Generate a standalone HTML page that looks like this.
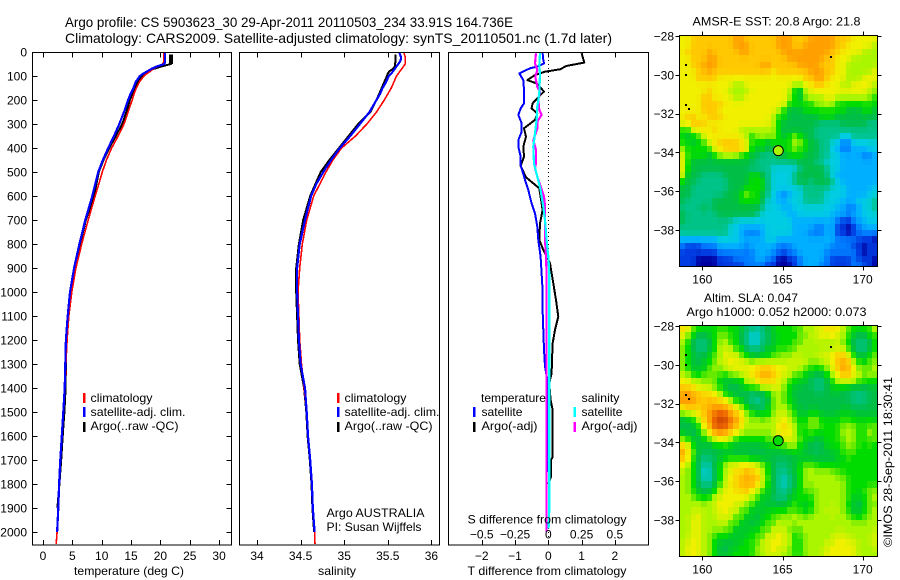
<!DOCTYPE html>
<html lang="en">
<head>
<meta charset="utf-8">
<title>Argo profile</title>
<style>
html,body{margin:0;padding:0;background:#fff;}
svg{display:block;font-family:"Liberation Sans",sans-serif;font-size:12px;fill:#000;}
.frame{fill:none;stroke:#000;stroke-width:1;shape-rendering:crispEdges;}
.bar{shape-rendering:crispEdges;}
.t{font-size:12px;}
</style>
</head>
<body>
<svg id="chart" width="900" height="580" viewBox="0 0 900 580" xmlns="http://www.w3.org/2000/svg">
  <rect width="900" height="580" fill="#fff"/>
  <text x="65" y="27" font-size="14" textLength="448" lengthAdjust="spacingAndGlyphs">Argo profile: CS 5903623_30 29-Apr-2011 20110503_234 33.91S 164.736E</text>
  <text x="65" y="43" font-size="14" textLength="547" lengthAdjust="spacingAndGlyphs">Climatology: CARS2009. Satellite-adjusted climatology: synTS_20110501.nc (1.7d later)</text>

  <g id="temp-panel"></g>
  <g id="sal-panel"></g>
  <g id="diff-panel"></g>
  <g id="sst-map"></g>
  <g id="sla-map"></g>
  <g id="axes"></g>

  <rect class="frame" x="32.5" y="52.5" width="199" height="492.5"/>
  <rect class="frame" x="239.5" y="52.5" width="200" height="492.5"/>
  <rect class="frame" x="448.5" y="52.5" width="200" height="492.5"/>

  <text x="74" y="575" textLength="110" lengthAdjust="spacingAndGlyphs">temperature (deg C)</text>
  <text x="318" y="575" textLength="38" lengthAdjust="spacingAndGlyphs">salinity</text>
  <text x="467.5" y="523.5" textLength="159" lengthAdjust="spacingAndGlyphs">S difference from climatology</text>
  <text x="467.5" y="575" textLength="159" lengthAdjust="spacingAndGlyphs">T difference from climatology</text>

  <g>
    <rect class="bar" x="83" y="393" width="2.5" height="10" fill="#f00"/>
    <rect class="bar" x="83" y="407" width="2.5" height="10" fill="#00f"/>
    <rect class="bar" x="83" y="422" width="2.5" height="10" fill="#000"/>
    <text x="90.5" y="402" textLength="62" lengthAdjust="spacingAndGlyphs">climatology</text>
    <text x="90.5" y="416" textLength="95" lengthAdjust="spacingAndGlyphs">satellite-adj. clim.</text>
    <text x="90.5" y="430" textLength="88" lengthAdjust="spacingAndGlyphs">Argo(..raw -QC)</text>
  </g>
  <g>
    <rect class="bar" x="337" y="393" width="2.5" height="10" fill="#f00"/>
    <rect class="bar" x="337" y="407" width="2.5" height="10" fill="#00f"/>
    <rect class="bar" x="337" y="422" width="2.5" height="10" fill="#000"/>
    <text x="344.5" y="402" textLength="62" lengthAdjust="spacingAndGlyphs">climatology</text>
    <text x="344.5" y="416" textLength="95" lengthAdjust="spacingAndGlyphs">satellite-adj. clim.</text>
    <text x="344.5" y="430" textLength="88" lengthAdjust="spacingAndGlyphs">Argo(..raw -QC)</text>
  </g>
  <text x="326.5" y="517" textLength="98" lengthAdjust="spacingAndGlyphs">Argo AUSTRALIA</text>
  <text x="326.5" y="531" textLength="95" lengthAdjust="spacingAndGlyphs">PI: Susan Wijffels</text>

  <g>
    <text x="481" y="402" textLength="65" lengthAdjust="spacingAndGlyphs">temperature</text>
    <text x="581.5" y="402" textLength="38" lengthAdjust="spacingAndGlyphs">salinity</text>
    <rect class="bar" x="473" y="407" width="2.5" height="10" fill="#00f"/>
    <rect class="bar" x="473" y="422" width="2.5" height="10" fill="#000"/>
    <rect class="bar" x="573.5" y="407" width="2.5" height="10" fill="#0ff"/>
    <rect class="bar" x="573.5" y="422" width="2.5" height="10" fill="#f0f"/>
    <text x="481.5" y="416" textLength="41" lengthAdjust="spacingAndGlyphs">satellite</text>
    <text x="481.5" y="430" textLength="56" lengthAdjust="spacingAndGlyphs">Argo(-adj)</text>
    <text x="581.5" y="416" textLength="41" lengthAdjust="spacingAndGlyphs">satellite</text>
    <text x="581.5" y="430" textLength="56" lengthAdjust="spacingAndGlyphs">Argo(-adj)</text>
  </g>

  <text x="692.5" y="25.5" textLength="168" lengthAdjust="spacingAndGlyphs">AMSR-E SST: 20.8 Argo: 21.8</text>
  <text x="704" y="302" textLength="94" lengthAdjust="spacingAndGlyphs">Altim. SLA: 0.047</text>
  <text x="686.5" y="316" textLength="180" lengthAdjust="spacingAndGlyphs">Argo h1000: 0.052 h2000: 0.073</text>
  <text transform="translate(892,547) rotate(-90)" textLength="170" lengthAdjust="spacingAndGlyphs">©IMOS 28-Sep-2011 18:30:41</text>
</svg>

<script>
/* ---------- profile data ---------- */
const depthLevels = [0,10,20,30,40,50,60,70,80,90,100,125,150,175,200,250,300,350,400,450,500,550,600,700,800,900,1000,1100,1200,1300,1400,1500,1600,1700,1800,1900,2000,2050];
const tempClimatology = [20.6,20.6,20.6,20.6,20.6,20.4,19.5,18.8,18.3,17.7,17.2,16.4,15.9,15.5,15.2,14.5,13.8,12.8,11.7,10.8,10.1,9.5,8.9,7.7,6.6,5.6,4.9,4.4,4.1,3.9,3.75,3.45,3.2,2.95,2.75,2.6,2.4,2.25];
const tempSatellite = [20.8,20.8,20.8,20.8,20.8,20.7,19.4,18.5,17.8,17.1,16.5,15.8,15.4,14.9,14.5,13.8,13.0,12.1,11.1,10.2,9.4,8.9,8.4,7.2,6.2,5.3,4.6,4.2,3.9,3.8,3.7,3.45,3.2,2.95,2.75,2.6,2.4,null];
const tempArgo = [null,21.8,21.8,21.8,21.8,21.8,20.2,18.9,18,17.3,16.8,16.1,15.6,15.2,14.8,14.2,13.5,12.4,11.3,10.3,9.5,9.1,8.7,7.3,6.3,5.4,4.7,4.3,4.0,3.9,3.85,3.65,3.35,3.1,2.8,2.45,null,null];
const salClimatology = [35.69,35.69,35.7,35.7,35.7,35.7,35.68,35.66,35.64,35.62,35.6,35.57,35.54,35.5,35.46,35.37,35.26,35.13,34.97,34.87,34.79,34.72,34.65,34.57,34.52,34.49,34.47,34.48,34.49,34.51,34.54,34.57,34.585,34.61,34.63,34.64,34.66,34.665];
const salSatellite = [35.63,35.64,35.65,35.65,35.64,35.62,35.6,35.58,35.56,35.54,35.51,35.48,35.44,35.41,35.37,35.29,35.18,35.07,34.95,34.85,34.76,34.68,34.62,34.55,34.49,34.46,34.46,34.47,34.48,34.5,34.55,34.57,34.585,34.61,34.63,34.64,34.66,null];
const salArgo = [null,35.59,35.59,35.59,35.59,35.58,35.58,35.56,35.52,35.5,35.49,35.46,35.43,35.4,35.37,35.3,35.16,35.05,34.94,34.83,34.73,34.67,34.61,34.53,34.48,34.45,34.45,34.46,34.47,34.49,34.54,34.565,34.58,34.605,34.625,34.635,34.655,null];

const diffTSatDepths = [5,33,47,61,68,89,117,158,214,235,262,297,332,367,394,436,471,533,575,631,672,728,783,853,922,992,1075,1241,1311,1366,1500,1750];
const diffTSat = [-0.17,-0.15,-0.13,-0.33,-0.55,-0.87,-0.75,-0.73,-0.73,-0.83,-0.9,-0.8,-0.8,-0.9,-0.9,-0.83,-0.83,-0.7,-0.6,-0.5,-0.4,-0.33,-0.3,-0.23,-0.2,-0.17,-0.17,-0.13,-0.1,-0.03,-0.03,-0.03];
const diffTArgoDepths = [5,44,58,72,82,89,96,117,131,165,193,214,235,256,283,318,353,394,436,475,522,568,631,658,714,783,825,880,964,1033,1103,1158,1214,1339,1380,1450,1491,1687,1700,1770,1800];
const diffTArgo = [1.0,1.08,0.55,0.35,-0.1,-0.25,-0.4,-0.63,-0.35,-0.13,-0.33,-0.47,-0.5,-0.33,-0.4,-0.73,-0.67,-0.75,-0.73,-0.83,-0.67,-0.27,-0.2,-0.17,-0.25,-0.27,-0.15,0.05,0.15,0.23,0.3,0.2,0.13,0.1,0.03,0.07,0.13,0.13,0.08,0.08,0.0];
const diffSArgoDepths = [5,47,75,103,144,165,200,242,262,290,318,367,408,464,485,519,561,603,644,700,780,853,922,2000];
const diffSArgo = [-0.0925,-0.1,-0.0825,-0.0975,-0.0825,-0.0625,-0.075,-0.0675,-0.05,-0.0825,-0.0825,-0.1125,-0.0925,-0.0925,-0.1,-0.0825,-0.0575,-0.0325,-0.025,-0.025,-0.025,-0.0175,-0.0125,-0.0125];
const diffSSatDepths = [5,54,89,172,228,283,339,394,464,519,575,644,700,783,853,922,1900,1985];
const diffSSat = [-0.0625,-0.0675,-0.0625,-0.0675,-0.0825,-0.0875,-0.1,-0.1125,-0.1075,-0.0825,-0.0575,-0.0375,-0.025,-0.0125,0,0.0075,0.0075,0.0025];

/* ---------- axis labels ---------- */
const depthTicks = [0,100,200,300,400,500,600,700,800,900,1000,1100,1200,1300,1400,1500,1600,1700,1800,1900,2000];
const tempTicks = [0,5,10,15,20,25,30];
const salTicks = [34,34.5,35,35.5,36];
const diffTTicks = [-2,-1,0,1,2];
const diffSTicks = [-0.5,-0.25,0,0.25,0.5];
const mapLonTicks = [160,165,170];
const mapLatTicks = [-28,-30,-32,-34,-36,-38];

/* ---------- map data (colour levels, rows north to south, 1/3 degree cells) ---------- */
const mapLevelColours = ["#0000a0","#003ce1","#007dff","#00afff","#00cde1","#00c387","#00be46","#00dc00","#aaf500","#f0f000","#ffc800","#ffa000","#eb6400","#c33c00"];
const coastSpecks = [[168,-29.1],[159,-29.5],[159,-30],[159,-31.55],[159.2,-31.75]];
const floatPosition = [164.736,-33.91];
const sstLevels = [
[9,9,10,10,10,10,10,10,10,10,11,11,10,10,10,10,10,10,11,11,11,10,10,10,11,11,11,11,11,10,10,10,9,9,9,9,9],
[9,9,10,10,10,10,10,10,10,10,11,11,11,10,10,10,10,10,11,11,11,10,10,11,11,11,11,11,11,10,10,9,9,9,9,9,8],
[9,10,10,10,10,11,10,10,10,10,10,11,11,10,10,10,10,10,10,11,11,11,11,11,11,11,11,11,10,10,9,9,9,9,8,8,8],
[9,9,10,10,10,11,11,10,10,10,10,10,10,10,10,10,10,10,10,10,11,11,11,11,11,11,11,10,10,9,9,9,8,8,8,8,8],
[9,9,10,10,11,11,11,10,10,10,10,10,10,10,10,11,11,10,10,10,10,10,11,11,11,11,10,10,10,9,9,8,8,8,8,8,8],
[9,9,9,10,10,11,10,10,10,10,10,10,10,10,10,10,10,9,10,10,10,10,10,10,11,11,11,10,10,9,9,8,8,8,8,8,9],
[9,9,9,10,10,10,10,9,9,9,9,9,9,9,9,9,9,9,9,9,9,9,9,10,10,11,11,10,9,9,9,8,8,8,9,9,9],
[9,9,9,9,9,9,9,9,9,9,8,8,9,9,9,9,9,9,9,9,9,8,8,9,9,10,10,9,9,9,8,8,9,9,9,9,8],
[9,9,9,9,9,10,9,9,9,8,8,8,8,9,9,9,9,9,9,9,8,7,6,8,9,9,9,9,9,9,9,9,9,9,9,8,8],
[9,9,9,9,10,10,9,9,9,9,8,8,9,9,9,9,9,9,9,9,8,7,6,8,8,8,8,9,9,8,8,8,8,8,8,8,7],
[9,9,9,9,10,10,10,10,9,9,9,9,9,9,9,9,9,9,9,9,7,7,7,7,7,8,8,8,8,7,7,7,7,7,7,7,7],
[9,9,9,9,10,10,10,9,9,9,9,9,9,9,9,9,9,9,8,7,6,6,6,7,7,7,7,7,7,7,7,6,6,6,7,7,6],
[9,10,10,9,9,10,10,10,9,9,9,9,9,9,9,9,9,8,7,7,6,6,6,6,6,6,7,7,7,6,6,6,6,6,6,6,6],
[9,9,10,10,10,9,9,9,9,9,9,9,9,9,9,9,9,8,7,6,6,6,6,6,6,6,5,5,5,5,6,6,6,6,6,5,5],
[7,7,9,9,9,9,10,9,9,9,9,8,8,8,8,8,8,8,7,6,6,6,6,6,6,5,5,5,5,5,5,5,5,5,5,5,5],
[7,6,7,7,9,9,9,9,9,9,9,9,8,7,8,8,8,8,7,6,7,8,7,6,6,5,5,5,5,5,4,4,5,5,5,5,5],
[7,7,6,7,7,9,9,10,10,10,10,9,9,7,7,7,6,7,7,7,7,8,8,7,6,6,5,5,4,4,2,2,4,4,4,4,4],
[8,7,7,7,7,7,9,9,10,10,10,10,9,7,6,7,6,6,6,7,7,8,7,7,6,6,5,5,4,3,2,2,3,3,3,4,4],
[9,7,7,7,7,6,7,8,8,8,8,7,7,6,6,5,5,5,6,6,7,7,7,6,6,6,5,5,4,4,3,3,3,3,2,2,3],
[9,7,6,6,6,6,6,6,6,6,6,6,6,6,5,5,5,5,5,5,5,5,6,6,6,5,5,4,4,4,3,3,3,3,3,3,3],
[9,7,6,6,6,6,6,6,6,6,6,6,6,5,5,5,5,4,4,4,4,4,5,6,6,6,6,5,4,4,3,3,3,3,3,3,3],
[9,6,6,6,5,5,5,5,6,6,6,6,6,7,7,6,5,4,4,4,4,5,6,6,6,6,6,5,4,3,3,3,3,3,3,3,3],
[7,6,6,5,5,5,5,5,5,6,6,6,6,7,7,7,5,4,4,4,4,5,6,6,5,6,6,6,5,4,3,3,3,3,3,3,3],
[6,6,5,5,5,5,5,5,5,6,6,6,7,7,7,7,5,4,4,4,4,4,4,5,5,5,5,5,4,4,4,3,3,3,3,3,4],
[6,6,5,5,5,5,5,5,6,6,6,7,8,7,7,6,5,4,3,2,3,4,4,5,5,5,5,4,4,4,4,3,3,3,3,4,4],
[6,5,5,5,5,5,6,6,6,6,6,7,7,7,7,6,4,4,3,3,4,4,4,5,5,5,5,4,4,4,3,3,3,4,4,4,5],
[5,5,5,5,6,5,6,6,6,6,6,6,6,6,6,5,4,4,4,3,3,4,4,4,4,4,4,4,4,3,3,2,2,3,4,4,5],
[6,5,5,5,5,5,5,6,6,6,6,6,6,6,5,4,4,4,4,4,3,3,4,4,4,4,4,4,3,3,3,2,3,3,4,4,4],
[6,5,5,5,5,5,5,5,5,5,4,4,4,4,4,4,4,4,4,4,4,3,3,3,3,3,3,3,3,2,1,1,2,3,3,4,4],
[5,5,5,5,5,5,5,5,5,4,4,3,3,3,3,3,4,4,4,4,4,3,3,3,3,2,2,3,3,1,1,0,1,2,3,3,3],
[5,5,5,5,5,5,5,5,5,4,4,3,2,2,2,3,4,4,4,4,4,3,3,3,2,2,2,3,3,1,1,0,1,2,2,2,2],
[3,3,3,3,3,3,3,4,4,4,4,3,3,3,3,3,4,4,3,3,3,3,3,3,3,3,3,3,3,2,2,2,2,1,1,1,0],
[2,1,1,1,2,2,2,3,3,3,3,3,2,3,3,3,3,3,2,2,2,3,3,3,3,3,3,3,2,2,2,2,1,1,0,1,1],
[1,1,1,1,1,1,1,2,2,2,2,2,2,2,3,3,3,2,2,1,2,2,3,3,3,3,3,2,2,2,2,2,2,1,0,1,1],
[1,1,1,0,0,0,0,1,1,1,2,2,2,2,3,3,2,2,0,0,1,1,2,3,3,3,3,2,1,1,1,1,2,1,1,1,0],
[1,1,1,0,0,0,0,1,1,1,1,1,2,2,2,2,1,1,0,0,0,1,2,3,3,3,2,2,1,1,1,1,2,2,1,1,0]
];
const slaLevels = [
[10,9,8,7,7,7,7,7,7,7,7,6,6,5,5,5,6,7,7,7,7,7,8,8,8,8,9,9,10,9,8,8,7,7,7,8,8],
[9,8,6,6,6,6,7,8,8,7,7,6,5,4,4,5,6,6,7,7,7,7,7,8,8,9,9,9,9,9,8,7,6,6,6,6,8],
[8,7,6,5,5,6,7,8,8,7,7,6,5,4,4,5,6,6,7,7,7,7,8,8,8,8,8,8,8,8,8,7,6,5,5,6,7],
[8,7,6,5,5,6,7,8,9,8,8,6,6,5,5,6,6,7,7,7,7,8,8,8,8,8,8,8,8,9,8,7,6,5,5,6,7],
[8,7,6,6,6,7,7,8,9,9,8,8,7,6,6,6,7,7,8,8,8,8,8,8,8,8,9,9,9,10,10,9,7,6,6,7,8],
[8,7,6,6,6,7,8,8,9,9,9,9,8,8,8,8,8,8,8,8,8,9,9,8,8,8,8,8,9,10,11,10,8,7,7,7,8],
[8,7,6,6,7,7,8,8,8,9,9,9,9,9,10,10,10,10,9,9,9,8,8,8,7,7,7,8,9,10,11,11,9,8,7,8,8],
[8,8,7,7,7,8,8,7,7,8,8,8,9,9,10,11,11,10,9,9,8,8,7,7,6,6,6,7,8,9,10,10,9,8,8,8,8],
[9,9,8,8,8,8,7,7,6,6,6,7,8,9,9,10,10,9,9,8,7,7,7,6,6,5,5,6,7,8,9,9,8,8,7,7,7],
[10,10,9,9,8,8,8,7,6,6,6,6,7,7,8,8,8,9,9,8,7,6,6,6,6,5,5,6,7,7,6,6,6,6,6,6,6],
[11,11,11,10,10,10,9,8,7,6,6,6,6,5,5,6,6,8,8,7,7,6,6,6,6,6,6,6,6,6,6,6,5,5,5,6,6],
[11,12,11,10,10,10,10,10,9,8,7,6,6,5,5,5,6,8,8,8,7,6,6,6,6,6,6,6,6,6,6,6,5,5,5,6,6],
[10,10,10,10,10,11,11,11,11,10,9,8,7,6,5,6,6,8,8,8,7,7,6,6,6,6,6,6,6,6,6,6,6,6,6,6,6],
[7,8,9,9,10,11,12,12,12,11,10,9,8,7,7,6,7,8,8,9,8,7,6,6,7,7,6,6,6,6,7,7,6,6,6,6,6],
[6,6,7,8,10,11,12,13,13,12,11,10,8,8,8,8,8,8,9,9,8,8,7,7,8,8,7,7,7,7,7,7,7,7,7,7,7],
[6,6,6,7,9,11,12,13,12,11,11,9,8,8,8,8,8,8,9,10,9,8,7,7,8,8,7,7,7,7,8,8,8,7,7,8,7],
[6,6,6,6,8,9,11,11,11,10,9,8,8,8,8,8,8,8,9,10,9,8,7,7,7,7,7,7,7,7,8,8,8,7,7,8,8],
[8,7,6,6,7,7,9,9,9,8,7,7,7,7,7,7,7,8,8,8,9,9,7,7,7,6,6,7,7,7,8,8,8,7,7,8,7],
[10,9,7,6,6,6,6,7,7,7,6,6,6,6,6,6,7,7,7,8,8,8,7,6,6,5,6,7,7,7,7,8,8,7,7,7,7],
[11,10,7,6,6,6,6,6,6,6,6,6,6,6,6,6,6,6,6,6,6,7,7,6,6,6,6,6,6,7,7,8,7,7,7,7,7],
[11,9,7,6,5,5,6,6,7,7,7,7,7,6,6,6,6,6,6,6,6,6,6,6,6,6,6,6,6,6,7,7,7,7,7,7,7],
[9,8,7,6,4,5,6,7,8,9,9,9,10,9,9,8,7,6,5,5,6,6,7,8,8,7,7,7,7,7,7,7,7,7,7,7,7],
[8,8,7,6,4,4,6,7,8,9,9,10,10,10,9,8,7,6,5,5,6,6,7,8,8,8,8,8,8,7,7,7,7,7,7,7,7],
[8,8,7,6,4,4,6,7,8,9,10,10,11,11,10,9,7,6,5,4,5,6,7,8,8,8,8,8,8,8,8,7,7,7,7,7,7],
[8,8,7,6,5,5,6,7,9,9,10,10,11,10,10,8,7,6,5,4,5,6,7,8,8,8,8,8,8,8,8,7,7,7,7,7,7],
[8,8,7,6,6,6,7,8,9,9,9,10,10,9,8,7,7,6,5,5,6,6,7,8,7,8,8,8,8,8,8,7,7,7,7,8,8],
[8,8,8,7,7,7,8,9,9,9,9,9,9,8,7,7,6,6,5,5,6,7,7,7,7,8,8,8,8,8,8,7,7,6,7,8,8],
[8,8,8,8,8,8,9,9,9,9,9,8,8,7,7,6,6,6,6,6,7,7,7,6,7,8,8,8,8,8,8,7,6,6,7,7,8],
[8,8,8,9,8,8,8,9,9,9,8,8,7,7,6,6,7,7,7,7,7,8,7,6,7,8,8,8,9,8,8,7,6,6,7,8,8],
[8,8,9,9,8,8,8,9,9,8,8,7,7,6,6,7,7,7,8,8,8,8,8,8,8,8,8,8,8,8,8,8,7,7,7,8,8],
[8,8,9,9,8,8,8,8,8,8,7,7,6,6,6,7,7,8,8,8,8,8,8,8,8,8,8,8,8,8,8,8,8,8,8,8,8],
[8,8,9,9,8,8,8,8,8,7,7,6,6,7,7,7,8,8,9,8,8,7,8,8,8,8,8,8,8,8,8,8,8,8,8,8,8],
[8,8,9,9,8,8,7,7,7,7,6,6,7,7,7,8,8,9,9,9,8,7,7,8,8,8,8,8,8,9,9,8,8,8,8,8,9],
[8,9,9,9,8,8,7,6,6,6,6,7,7,7,8,8,9,9,9,9,8,7,7,8,8,8,8,8,9,9,9,9,9,8,8,8,9],
[8,9,9,9,8,8,7,6,6,6,7,7,7,7,8,8,9,9,9,8,8,7,7,8,8,8,8,9,9,9,9,9,9,8,8,8,8],
[8,9,9,9,8,8,7,6,6,7,7,7,7,7,8,8,8,9,8,8,8,7,7,8,8,8,8,9,9,9,9,9,9,8,8,8,8]
];

/* ---------- scales ---------- */
const yDepth = d => 52 + d * 0.24;
const xTemp = t => 43 + t * 5.87;
const xSal = s => 257 + (s - 34) * 87.2;
const xDiffT = t => 548.3 + t * 33.3;
const xDiffS = s => 548.3 + s * 133.2;
const xLon = lon => 702.3 + (lon - 160) * 16.04;
const yLat = (lat, top) => top + (-28 - lat) * 19.4;

const NS = 'http://www.w3.org/2000/svg';
function make(parentEl, tag) {
  const el = document.createElementNS(NS, tag);
  parentEl.appendChild(el);
  return el;
}
function seg(parentEl, x1, y1, x2, y2) {
  const el = make(parentEl, 'line');
  el.setAttribute('x1', x1);
  el.setAttribute('y1', y1);
  el.setAttribute('x2', x2);
  el.setAttribute('y2', y2);
  el.setAttribute('stroke', '#000');
  el.setAttribute('stroke-width', '1');
  el.setAttribute('shape-rendering', 'crispEdges');
  return el;
}
function label(parentEl, x, y, anchor, str) {
  const el = make(parentEl, 'text');
  el.setAttribute('x', x);
  el.setAttribute('y', y);
  el.setAttribute('text-anchor', anchor);
  el.textContent = str;
  return el;
}
function profile(parentEl, depths, values, xScale, colour, width) {
  const pts = [];
  values.forEach((v, i) => { if (v !== null) pts.push(xScale(v).toFixed(1) + ',' + yDepth(depths[i]).toFixed(1)); });
  const el = make(parentEl, 'polyline');
  el.setAttribute('points', pts.join(' '));
  el.setAttribute('fill', 'none');
  el.setAttribute('stroke', colour);
  el.setAttribute('stroke-width', width);
  el.setAttribute('stroke-linejoin', 'round');
  el.setAttribute('shape-rendering', 'crispEdges');
  return el;
}
const fmt = v => String(v).replace('-', '\u2212');

/* ---------- profile series ---------- */
const tempPanel = document.getElementById('temp-panel');
const salPanel = document.getElementById('sal-panel');
const diffPanel = document.getElementById('diff-panel');
const axes = document.getElementById('axes');

const l1 = profile(tempPanel, depthLevels, tempArgo, xTemp, '#000', 2);


const l1top = profile(tempPanel, depthLevels.slice(0, 6), tempArgo.slice(0, 6), xTemp, '#000', 4);


const l2 = profile(tempPanel, depthLevels, tempClimatology, xTemp, '#f00', 1.6);


const l3 = profile(tempPanel, depthLevels, tempSatellite, xTemp, '#00f', 2.2);



const l4 = profile(salPanel, depthLevels, salArgo, xSal, '#000', 2);


const l5 = profile(salPanel, depthLevels, salClimatology, xSal, '#f00', 1.6);


const l6 = profile(salPanel, depthLevels, salSatellite, xSal, '#00f', 2.2);



const zero = seg(diffPanel, xDiffT(0), 52, xDiffT(0), 545);
zero.setAttribute('stroke-dasharray', '1 3');



const l7 = profile(diffPanel, diffTArgoDepths, diffTArgo, xDiffT, '#000', 2);


const l8 = profile(diffPanel, diffTSatDepths, diffTSat, xDiffT, '#00f', 2);


const l9 = profile(diffPanel, diffSArgoDepths, diffSArgo, xDiffS, '#f0f', 2.2);


const l10 = profile(diffPanel, diffSSatDepths, diffSSat, xDiffS, '#0ff', 2.2);



/* ---------- profile axes ---------- */
depthTicks.forEach(d => {
  const y = Math.round(yDepth(d)) + 0.5;
  const a = seg(axes, 32.5, y, 37.5, y);
  
  
  const b = seg(axes, 226.5, y, 231.5, y);
  
  
  const t = label(axes, 27, yDepth(d) + 4.5, 'end', d);
  
  
});
function bottomTopTicks(values, xScale) {
  values.forEach(v => {
    const x = Math.round(xScale(v)) + 0.5;
    const a = seg(axes, x, 52.5, x, 57.5);
    
    
    const b = seg(axes, x, 540, x, 545);
    
    
    const t = label(axes, xScale(v), 560, 'middle', fmt(v));
    
    
  });
}
bottomTopTicks(tempTicks, xTemp);
bottomTopTicks(salTicks, xSal);
bottomTopTicks(diffTTicks, xDiffT);
diffSTicks.forEach(v => {
  const t = label(axes, xDiffS(v), 538.5, 'middle', fmt(v));
  
  
});

/* ---------- maps ---------- */
function levelColour(v) {
  const lo = Math.max(0, Math.min(mapLevelColours.length - 2, Math.floor(v)));
  const f = Math.max(0, Math.min(1, v - lo));
  const parse = h => [1, 3, 5].map(i => parseInt(h.substr(i, 2), 16));
  const a = parse(mapLevelColours[lo]);
  const b = parse(mapLevelColours[lo + 1]);
  return 'rgb(' + a.map((c, i) => Math.round(c + (b[i] - c) * f)).join(',') + ')';
}
function neighbourBlend(levels, centreWeight) {
  return levels.map((row, r) => row.map((v, c) => {
    let sum = v * centreWeight;
    let n = centreWeight;
    [[r - 1, c], [r + 1, c], [r, c - 1], [r, c + 1]].forEach(p => {
      if (levels[p[0]] && levels[p[0]][p[1]] !== undefined) {
        sum += levels[p[0]][p[1]];
        n += 1;
      }
    });
    return sum / n;
  }));
}
function drawMap(groupId, levels, top, bottom, markerLevel, centreWeight) {
  const g = document.getElementById(groupId);
  const clipId = groupId + '-clip';
  const clip = make(g, 'clipPath');
  clip.setAttribute('id', clipId);
  const cr = make(clip, 'rect');
  cr.setAttribute('x', 679.5);
  cr.setAttribute('y', top);
  cr.setAttribute('width', 198);
  cr.setAttribute('height', bottom - top);
  const cells = make(g, 'g');
  cells.setAttribute('clip-path', 'url(#' + clipId + ')');
  
  
  const display = neighbourBlend(levels, centreWeight);
  display.forEach((row, r) => {
    row.forEach((v, c) => {
      const lon = 158.6 + c / 3;
      const lat = -28 - r / 3;
      const x0 = Math.round(xLon(lon));
      const x1 = Math.round(xLon(lon + 1 / 3));
      const y0 = Math.round(yLat(lat, top + 0.5));
      const y1 = Math.round(yLat(lat - 1 / 3, top + 0.5));
      const cell = make(cells, 'rect');
      cell.setAttribute('x', x0);
      cell.setAttribute('y', y0);
      cell.setAttribute('width', x1 - x0);
      cell.setAttribute('height', y1 - y0);
      cell.setAttribute('fill', levelColour(v));
      cell.setAttribute('shape-rendering', 'crispEdges');
      
      
    });
  });
  coastSpecks.forEach(p => {
    const s = make(g, 'rect');
    s.setAttribute('x', Math.round(xLon(p[0])) - 1);
    s.setAttribute('y', Math.round(yLat(p[1], top + 0.5)) - 1);
    s.setAttribute('width', 2);
    s.setAttribute('height', 2);
    s.setAttribute('fill', '#000');
    s.setAttribute('shape-rendering', 'crispEdges');
    
    
  });
  const frame = make(g, 'rect');
  frame.setAttribute('class', 'frame');
  frame.setAttribute('x', 679.5);
  frame.setAttribute('y', top);
  frame.setAttribute('width', 198);
  frame.setAttribute('height', bottom - top);
  
  
  mapLonTicks.forEach(lon => {
    const x = Math.round(xLon(lon)) + 0.5;
    const a = seg(g, x, top - 4, x, top);
    
    
    const b = seg(g, x, bottom, x, bottom + 4);
    
    
    const t = label(g, xLon(lon), bottom + 17, 'middle', lon);
    
    
  });
  mapLatTicks.forEach(lat => {
    const y = Math.round(yLat(lat, top + 0.5)) + 0.5;
    const a = seg(g, 675.5, y, 679.5, y);
    
    
    const b = seg(g, 877.5, y, 881.5, y);
    
    
    const t = label(g, 674, yLat(lat, top + 0.5) + 4.5, 'end', fmt(lat));
    
    
  });
  const m = make(g, 'circle');
  m.setAttribute('cx', xLon(floatPosition[0]));
  m.setAttribute('cy', yLat(floatPosition[1], top + 0.5));
  m.setAttribute('r', 5);
  m.setAttribute('fill', mapLevelColours[markerLevel]);
  m.setAttribute('stroke', '#000');
  m.setAttribute('stroke-width', 1);
  
  
}
drawMap('sst-map', sstLevels, 35.5, 266.5, 8, 4);
drawMap('sla-map', slaLevels, 325.5, 556.5, 7, 1);
</script>
</body>
</html>
